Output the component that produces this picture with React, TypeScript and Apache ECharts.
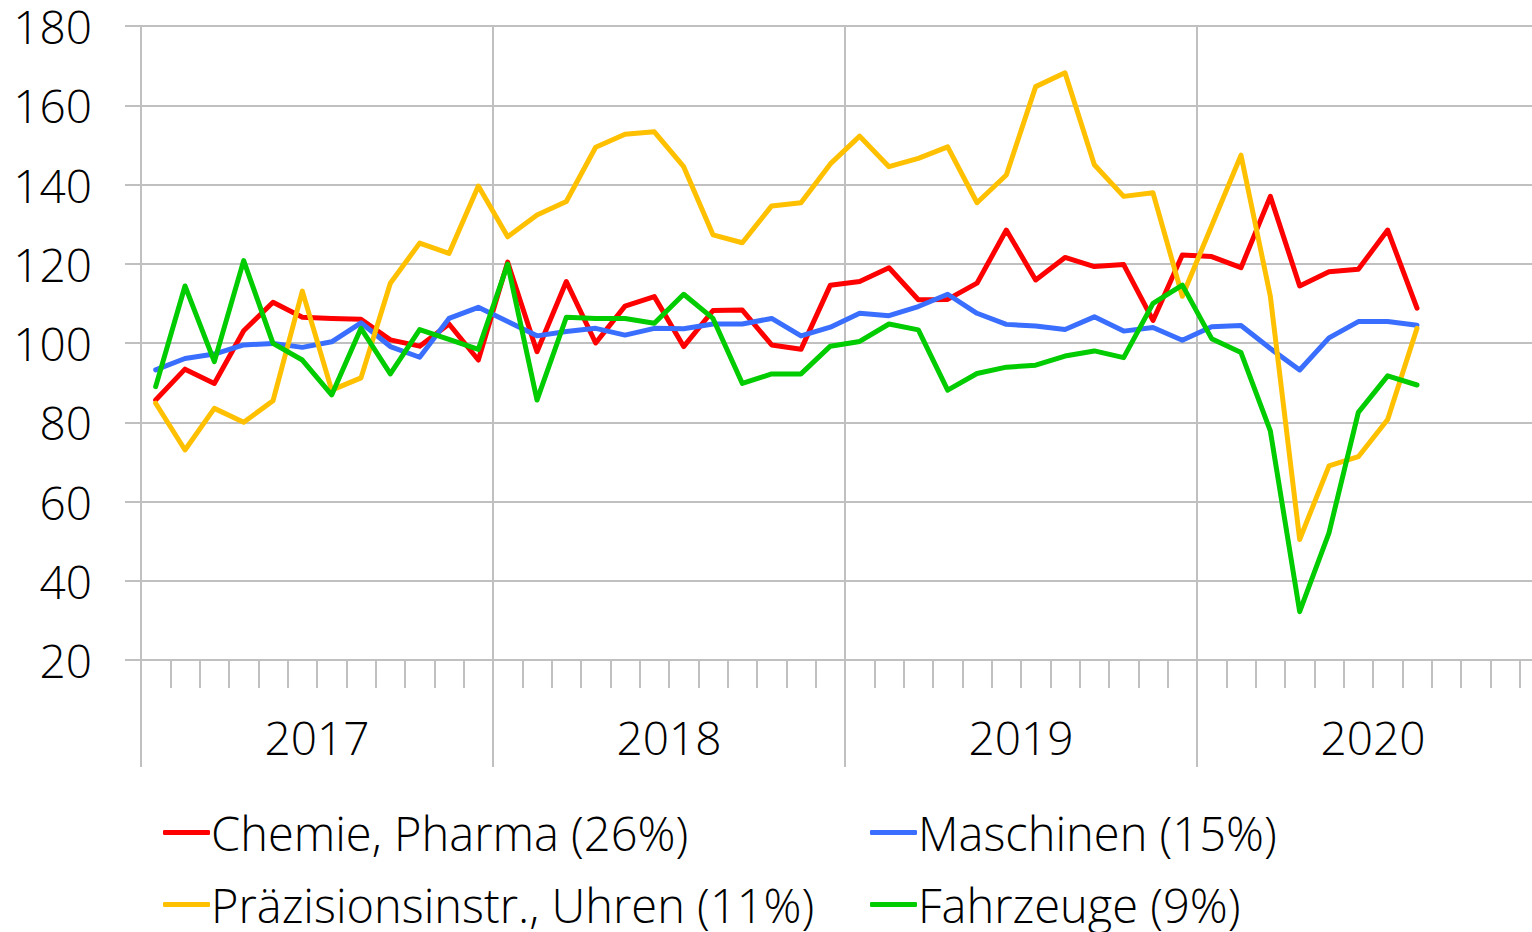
import React, { useEffect, useRef } from 'react';
import * as echarts from 'echarts';

const years = ['2017', '2018', '2019', '2020'];
const monthCategories = years.flatMap((y) =>
  ['01', '02', '03', '04', '05', '06', '07', '08', '09', '10', '11', '12'].map((m) => `${y}-${m}`)
);

const chemie = [85.6, 93.4, 89.8, 103.1, 110.3, 106.5, 106.2, 106.0, 100.8, 99.2, 104.8, 95.7,
  120.4, 97.8, 115.5, 100.0, 109.3, 111.7, 99.1, 108.2, 108.3, 99.5, 98.4, 114.6,
  115.5, 119.0, 110.9, 111.0, 115.1, 128.5, 115.9, 121.6, 119.3, 119.8, 105.7, 122.2,
  121.8, 119.0, 137.0, 114.4, 118.0, 118.6, 128.5, 108.8];
const maschinen = [93.2, 96.1, 97.2, 99.5, 99.9, 98.9, 100.3, 105.1, 99.1, 96.4, 106.2, 109.0,
  105.4, 101.8, 102.9, 103.7, 102.0, 103.7, 103.6, 104.8, 104.8, 106.2, 101.8, 104.0,
  107.5, 106.9, 109.2, 112.3, 107.5, 104.7, 104.3, 103.4, 106.6, 103.0, 103.9, 100.7,
  104.1, 104.4, 98.6, 93.2, 101.3, 105.4, 105.4, 104.5];
const praezision = [84.8, 73.0, 83.5, 80.0, 85.4, 113.1, 88.1, 91.2, 115.1, 125.2, 122.6, 139.6,
  126.8, 132.3, 135.7, 149.4, 152.7, 153.3, 144.5, 127.3, 125.3, 134.6, 135.4, 145.2,
  152.2, 144.5, 146.6, 149.5, 135.4, 142.4, 164.7, 168.2, 145.0, 137.0, 137.9, 111.8,
  129.6, 147.4, 111.8, 50.4, 69.0, 71.3, 80.7, 103.7];
const fahrzeuge = [89.0, 114.4, 95.3, 120.8, 99.9, 95.7, 86.9, 103.7, 92.2, 103.4, 100.9, 98.4,
  119.9, 85.6, 106.5, 106.2, 106.2, 105.0, 112.3, 106.2, 89.8, 92.2, 92.2, 99.2,
  100.4, 104.8, 103.3, 88.1, 92.3, 93.9, 94.4, 96.7, 98.0, 96.3, 110.0, 114.6,
  101.1, 97.6, 77.8, 32.2, 52.1, 82.5, 91.7, 89.4];

const seriesNames = ['Chemie, Pharma (26%)', 'Maschinen (15%)', 'Präzisionsinstr., Uhren (11%)', 'Fahrzeuge (9%)'];
const seriesData = [chemie, maschinen, praezision, fahrzeuge];
const seriesColors = ['#FF0000', '#3A6EFF', '#FFC000', '#00CC00'];

const FONT = 'Open Sans';
const GRIDC = '#C0C0C0';

export default function App() {
  const ref = useRef<HTMLDivElement>(null);
  useEffect(() => {
    document.body.style.margin = '0';
    const chart = echarts.init(ref.current!, null, { renderer: 'svg' });
    const legendPos = [
      { left: 163, top: 809 },
      { left: 870, top: 809 },
      { left: 163, top: 881 },
      { left: 870, top: 881 },
    ];
    chart.setOption({
      animation: false,
      grid: { left: 141, top: 26, width: 1408, height: 634, containLabel: false },
      legend: seriesNames.map((n, i) => ({
        data: [n],
        left: legendPos[i].left,
        top: legendPos[i].top,
        icon: 'roundRect',
        itemWidth: 47,
        itemHeight: 5,
        padding: 0,
        textStyle: { fontFamily: FONT, fontWeight: 300, fontSize: 47, lineHeight: 47, color: '#000', padding: [0, 0, 0, -4] },
        selectedMode: false,
      })),
      xAxis: [
        {
          type: 'category',
          data: monthCategories,
          boundaryGap: true,
          axisLine: { show: true, lineStyle: { color: GRIDC, width: 2 } },
          axisTick: { show: true, interval: 0, length: 28, lineStyle: { color: GRIDC, width: 2 } },
          axisLabel: { show: false },
          splitLine: { show: false },
        },
        {
          type: 'category',
          data: years,
          boundaryGap: true,
          position: 'bottom',
          axisLine: { show: false },
          axisTick: { show: true, interval: 0, length: 107, lineStyle: { color: GRIDC, width: 2 } },
          axisLabel: { show: true, interval: 0, fontFamily: FONT, fontWeight: 300, fontSize: 46, color: '#000', margin: 54, lineHeight: 46 },
          splitLine: { show: true, interval: 0, lineStyle: { color: GRIDC, width: 2 } },
        },
      ],
      yAxis: {
        type: 'value',
        min: 20,
        max: 180,
        interval: 20,
        axisLine: { show: true, lineStyle: { color: GRIDC, width: 2 } },
        axisTick: { show: true, length: 16, lineStyle: { color: GRIDC, width: 2 } },
        axisLabel: { fontFamily: FONT, fontWeight: 300, fontSize: 46, lineHeight: 46, color: '#000', margin: 49 },
        splitLine: { show: true, lineStyle: { color: GRIDC, width: 2 } },
      },
      series: seriesNames.map((n, i) => ({
        name: n,
        type: 'line',
        xAxisIndex: 0,
        data: seriesData[i],
        symbol: 'none',
        showSymbol: false,
        color: seriesColors[i],
        lineStyle: { color: seriesColors[i], width: 5, cap: 'round', join: 'round' },
      })),
    });
    return () => chart.dispose();
  }, []);
  return (
    <div style={{ position: 'absolute', left: 0, top: 0, width: 1532, height: 932, overflow: 'hidden' }}>
      <div ref={ref} style={{ width: 1560, height: 932 }} />
    </div>
  );
}
